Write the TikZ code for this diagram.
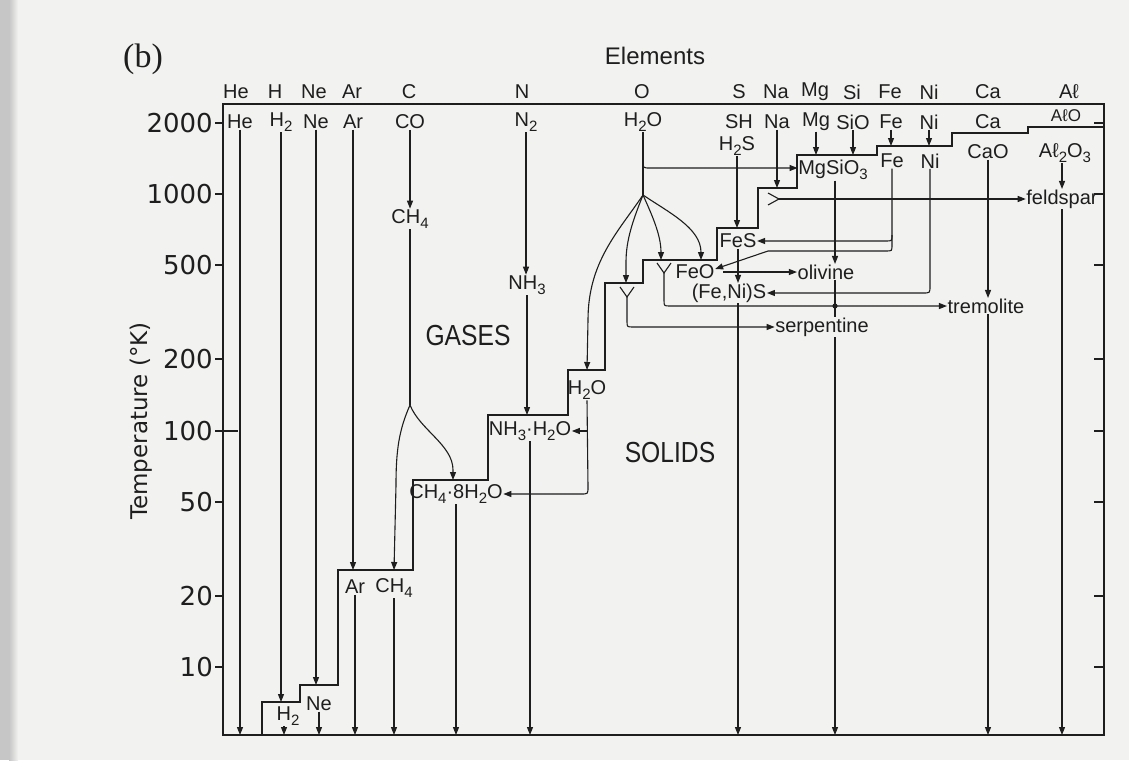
\documentclass[tikz,border=0pt]{standalone}
\usepackage{fontspec}
\setmainfont{Liberation Sans}
\newfontfamily\numfont{DejaVu Sans}
\newfontfamily\bigfont{Liberation Sans}[FakeStretch=0.85]
\newfontfamily\serifb{Liberation Serif}
\usetikzlibrary{arrows.meta}
\newcommand{\sbx}[1]{\raisebox{-0.5ex}{\fontsize{15}{15}\selectfont #1}}
\definecolor{bgc}{RGB}{242,242,240}
\definecolor{ink}{RGB}{30,30,30}
\tikzset{
  lab/.style={font=\fontsize{20}{20}\selectfont, inner sep=0.5pt, text=ink},
  num/.style={font=\numfont\fontsize{26}{26}\selectfont, anchor=east, inner sep=0pt, text=ink},
  big/.style={font=\bigfont\fontsize{29}{29}\selectfont, text=ink},
  ln/.style={line width=1.1pt, draw=ink},
  arr/.style={line width=1.1pt, draw=ink, -{Triangle[length=8pt,width=6pt]}},
  heavy/.style={line width=2.4pt, draw=ink},
  tk/.style={line width=1.3pt, draw=ink},
}
\begin{document}
\begin{tikzpicture}[x=1pt,y=-1pt]
\useasboundingbox (0,0) rectangle (1129,760);
\fill[bgc] (0,0) rectangle (1129,760);
\fill[gray!45] (0,0) rectangle (9,760);
\shade[left color=gray!45, right color=bgc] (9,0) rectangle (18,760);

% ---------- title and axis labels
\node[font=\serifb\fontsize{34}{34}\selectfont, text=ink] (blabel) at (143,59) {(b)};
\node[lab, font=\fontsize{24}{24}\selectfont] (elements) at (655,56) {Elements};
\node[font=\numfont\fontsize{23}{23}\selectfont, rotate=90, text=ink] (ylab) at (141,421) {Temperature (°K)};
\node[big] (gases) at (468,336) {GASES};
\node[big] (solids) at (670,453) {SOLIDS};

% ---------- frame and ticks
\draw[heavy] (223,104) rectangle (1104,735);
\node[num] (t2000) at (213,123) {2000};
\node[num] (t1000) at (213,194) {1000};
\node[num] (t500) at (213,265) {500};
\node[num] (t200) at (213,359) {200};
\node[num] (t100) at (213,431) {100};
\node[num] (t50) at (213,502) {50};
\node[num] (t20) at (213,596) {20};
\node[num] (t10) at (213,667) {10};
\foreach \y in {123,194,265,359,502,596,667} {
  \draw[tk] (215,\y) -- (223,\y);
  \draw[tk] (1094,\y) -- (1104,\y);
}
\draw[tk] (215,431) -- (238,431);
\draw[tk] (1094,431) -- (1104,431);

% ---------- staircase
\draw[heavy] (262,735) -- (262,702) -- (300,702) -- (300,685) -- (338,685)
  -- (338,570) -- (413,570) -- (413,480) -- (488,480) -- (488,415)
  -- (568,415) -- (568,370) -- (605,370) -- (605,283) -- (643,283)
  -- (643,260) -- (717,260) -- (717,228) -- (758,228) -- (758,188)
  -- (797,188) -- (797,155) -- (877,155) -- (877,146) -- (952,146)
  -- (952,133) -- (1028,133) -- (1028,127) -- (1104,127);
\coordinate (bot) at (0,735);
\coordinate (sH) at (0,702);
\coordinate (sNe) at (0,685);
\coordinate (sAr) at (0,570);
\coordinate (sCH) at (0,480);
\coordinate (sNH) at (0,415);
\coordinate (sHO) at (0,370);
\coordinate (sY) at (0,283);
\coordinate (sFeO) at (0,260);
\coordinate (sFeS) at (0,228);
\coordinate (sNa) at (0,188);
\coordinate (sMg) at (0,155);
\coordinate (sFe) at (0,146);

% ---------- element names above the frame
\node[lab] (eHe) at (236,92) {He};
\node[lab] (eH) at (275,92) {H};
\node[lab] (eNe) at (314,92) {Ne};
\node[lab] (eAr) at (352,92) {Ar};
\node[lab] (eC) at (409,92) {C};
\node[lab] (eN) at (522,92) {N};
\node[lab] (eO) at (642,92) {O};
\node[lab] (eS) at (739,92) {S};
\node[lab] (eNa) at (776,92) {Na};
\node[lab] (eMg) at (815,92) {Mg};
\node[lab] (eSi) at (852,92) {Si};
\node[lab] (eFe) at (890,92) {Fe};
\node[lab] (eNi) at (929,92) {Ni};
\node[lab] (eCa) at (988,92) {Ca};
\node[lab] (eAl) at (1069,92) {Aℓ};

% ---------- species at 2000 K
\node[lab] (He) at (240,122) {He};
\node[lab] (H2) at (281,122) {H\sbx{2}};
\node[lab] (Ne) at (316,122) {Ne};
\node[lab] (Ar) at (353,122) {Ar};
\node[lab] (CO) at (410,122) {CO};
\node[lab] (N2) at (526,122) {N\sbx{2}};
\node[lab] (H2Ot) at (643,122) {H\sbx{2}O};
\node[lab] (SH) at (739,122) {SH};
\node[lab] (Na) at (777,122) {Na};
\node[lab] (Mg) at (816,122) {Mg};
\node[lab] (SiO) at (853,122) {SiO};
\node[lab] (Fe) at (891,122) {Fe};
\node[lab] (Ni) at (929,122) {Ni};
\node[lab] (Ca) at (988,122) {Ca};
\node[lab, font=\fontsize{17}{17}\selectfont] (AlO) at (1066,116) {AℓO};

% ---------- other species
\node[lab] (H2S) at (737,146) {H\sbx{2}S};
\node[lab] (MgSiO3) at (833,170) {MgSiO\sbx{3}};
\node[lab] (Fe2) at (892,161) {Fe};
\node[lab] (Ni2) at (930,161) {Ni};
\node[lab] (CaO) at (988,152) {CaO};
\node[lab] (Al2O3) at (1065,153) {Aℓ\sbx{2}O\sbx{3}};
\node[lab] (feldspar) at (1062,199) {feldspar};
\node[lab] (CH4a) at (410,219) {CH\sbx{4}};
\node[lab] (NH3) at (527,285) {NH\sbx{3}};
\node[lab] (FeS) at (738,241) {FeS};
\node[lab] (FeO) at (695,272) {FeO};
\node[lab] (olivine) at (826,272) {olivine};
\node[lab] (FeNiS) at (729,293) {(Fe,Ni)S};
\node[lab] (tremolite) at (986,306) {tremolite};
\node[lab] (serpentine) at (822,327) {serpentine};
\node[lab] (H2Oi) at (587,390) {H\sbx{2}O};
\node[lab] (NH3H2O) at (530,431) {NH\sbx{3}·H\sbx{2}O};
\node[lab] (CH48) at (456,494) {CH\sbx{4}·8H\sbx{2}O};
\node[lab] (ArL) at (355,587) {Ar};
\node[lab] (CH4b) at (394,588) {CH\sbx{4}};
\node[lab] (NeL) at (319,704) {Ne};
\node[lab] (H2L) at (288,716) {H\sbx{2}};

% ---------- noble gases and hydrogen
\draw[arr] (He.south) -- (He.south |- bot);
\draw[arr] (H2.south) -- (H2.south |- sH);
\draw[arr] ([xshift=-4pt]H2L.south) -- ([xshift=-4pt]H2L.south |- bot);
\draw[arr] (Ne.south) -- (Ne.south |- sNe);
\draw[arr] (NeL.south) -- (NeL.south |- bot);
\draw[arr] (Ar.south) -- (Ar.south |- sAr);
\draw[arr] (ArL.south) -- (ArL.south |- bot);

% ---------- carbon
\coordinate (csplit) at (410,405);
\draw[arr] (CO.south) -- (CH4a.north);
\draw[ln] (CH4a.south) -- (csplit);
\draw[arr] (csplit) .. controls (399,430) and (396,450) .. (396,485) -- (CH4b.north |- sAr);
\draw[arr] (csplit) .. controls (420,430) and (453,445) .. (453,470) -- (453,480);
\draw[arr] (CH4b.south) -- (CH4b.south |- bot);
\draw[arr] (CH48.south) -- (CH48.south |- bot);

% ---------- nitrogen
\draw[arr] (N2.south) -- (N2.south |- NH3.north);
\draw[arr] (NH3.south) -- (NH3.south |- sNH);
\draw[arr] (NH3H2O.south) -- (NH3H2O.south |- bot);

% ---------- oxygen
\coordinate (osplit) at (643,195);
\draw[ln] (H2Ot.south) -- (osplit);
\draw[arr] (643,161) .. controls (643,168) .. (650,168) -- (MgSiO3.west |- 0,168);
\draw[arr] (osplit) .. controls (618,232) and (588,262) .. (588,320) -- (H2Oi.north |- sHO);
\draw[arr] (osplit) .. controls (633,220) and (626,240) .. (626,262) -- (626,283);
\draw[arr] (osplit) .. controls (652,215) and (661,235) .. (661,260);
\draw[arr] (osplit) .. controls (668,212) and (701,228) .. (701,260);
\draw[arr] (H2Oi.south) -- (588,487) .. controls (588,494) .. (581,494) -- (CH48.east);
\draw[arr] (H2Oi.south |- NH3H2O.east) -- (NH3H2O.east);

% Y junctions
\coordinate (y1) at (627,297);
\draw[ln] (620,287) -- (y1) -- (634,287);
\draw[arr] (y1) -- (627,321) .. controls (627,327) .. (633,327) -- (serpentine.west);
\coordinate (y2) at (664,273);
\draw[ln] (657,263) -- (y2) -- (671,263);
\draw[arr] (y2) -- (664,300) .. controls (664,306) .. (670,306) -- (tremolite.west);
\coordinate (y3) at (779,199);
\draw[ln] (768,193) -- (y3) -- (768,205);
\draw[arr] (y3) -- (feldspar.west);

% ---------- sulfur
\draw[arr] (H2S.south) -- (H2S.south |- sFeS);
\draw[arr] (FeS.south) -- (FeS.south |- FeNiS.north);
\draw[arr] (FeNiS.south -| FeS.south) -- (FeS.south |- bot);

% ---------- sodium, magnesium, silicon
\draw[arr] (Na.south) -- (Na.south |- sNa);
\draw[arr] (Mg.south) -- (Mg.south |- sMg);
\draw[arr] (SiO.south) -- (SiO.south |- sMg);
\coordinate (mgx) at (835,0);
\draw[arr] (MgSiO3.south -| mgx) -- (olivine.north -| mgx);
\draw[ln] (olivine.south -| mgx) -- (serpentine.north -| mgx);
\fill[ink] (835,306) circle (2.6pt);
\draw[arr] (serpentine.south -| mgx) -- (mgx |- bot);
\draw[arr] ([xshift=8pt]FeO.east) -- (olivine.west);

% ---------- iron and nickel
\draw[arr] (Fe.south) -- (Fe.south |- sFe);
\draw[arr] (Ni.south) -- (Ni.south |- sFe);
\coordinate (fej) at (892,235);
\draw[arr] (Fe2.south) -- (fej) .. controls (892,241) .. (886,241) -- (FeS.east);
\draw[arr] (fej) -- (892,245) .. controls (892,251) .. (886,251) -- (768,251) -- ([yshift=3pt]FeO.east);
\draw[arr] (Ni2.south) -- (930,286) .. controls (930,293) .. (923,293) -- (FeNiS.east);

% ---------- calcium and aluminium
\draw[arr] (CaO.south) -- (CaO.south |- tremolite.north);
\draw[arr] (tremolite.south -| CaO.south) -- (CaO.south |- bot);
\draw[arr] (Al2O3.south -| feldspar.north) -- (feldspar.north);
\draw[arr] (feldspar.south) -- (feldspar.south |- bot);
\end{tikzpicture}
\end{document}
